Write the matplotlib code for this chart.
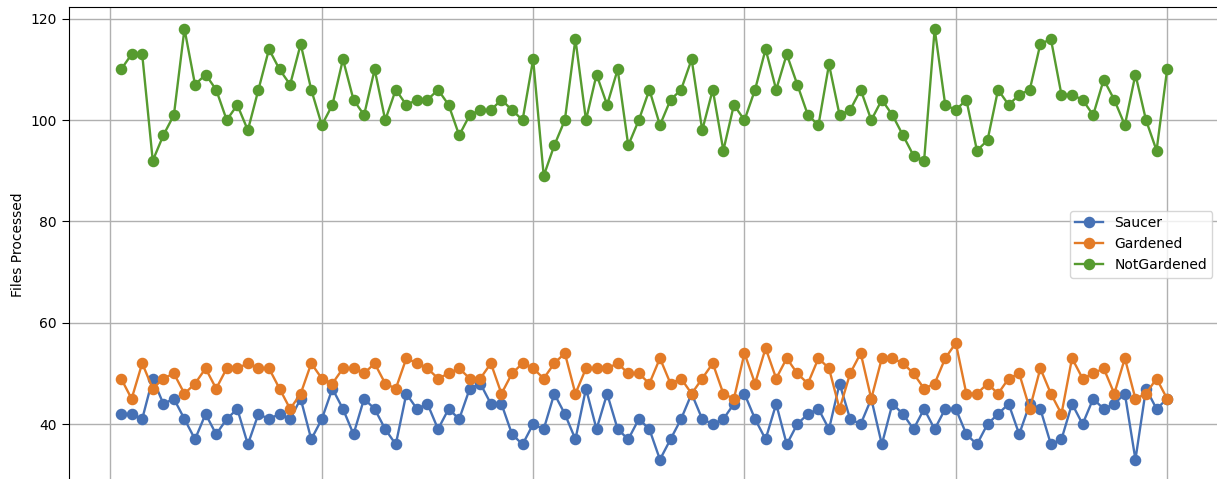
import numpy as np
import matplotlib
matplotlib.use("Agg")
import matplotlib.pyplot as plt

saucer = [42, 42, 41, 49, 44, 45, 41, 37, 42, 38, 41, 43, 36, 42, 41, 42, 41, 45, 37, 41,
          47, 43, 38, 45, 43, 39, 36, 46, 43, 44, 39, 43, 41, 47, 48, 44, 44, 38, 36, 40,
          39, 46, 42, 37, 47, 39, 46, 39, 37, 41, 39, 33, 37, 41, 46, 41, 40, 41, 44, 46,
          41, 37, 44, 36, 40, 42, 43, 39, 48, 41, 40, 45, 36, 44, 42, 39, 43, 39, 43, 43,
          38, 36, 40, 42, 44, 38, 44, 43, 36, 37, 44, 40, 45, 43, 44, 46, 33, 47, 43, 45]
gardened = [49, 45, 52, 47, 49, 50, 46, 48, 51, 47, 51, 51, 52, 51, 51, 47, 43, 46, 52, 49,
            48, 51, 51, 50, 52, 48, 47, 53, 52, 51, 49, 50, 51, 49, 49, 52, 46, 50, 52, 51,
            49, 52, 54, 46, 51, 51, 51, 52, 50, 50, 48, 53, 48, 49, 46, 49, 52, 46, 45, 54,
            48, 55, 49, 53, 50, 48, 53, 51, 43, 50, 54, 45, 53, 53, 52, 50, 47, 48, 53, 56,
            46, 46, 48, 46, 49, 50, 43, 51, 46, 42, 53, 49, 50, 51, 46, 53, 45, 46, 49, 45]
not_gardened = [110, 113, 113, 92, 97, 101, 118, 107, 109, 106, 100, 103, 98, 106, 114, 110, 107, 115, 106, 99,
                103, 112, 104, 101, 110, 100, 106, 103, 104, 104, 106, 103, 97, 101, 102, 102, 104, 102, 100, 112,
                89, 95, 100, 116, 100, 109, 103, 110, 95, 100, 106, 99, 104, 106, 112, 98, 106, 94, 103, 100,
                106, 114, 106, 113, 107, 101, 99, 111, 101, 102, 106, 100, 104, 101, 97, 93, 92, 118, 103, 102,
                104, 94, 96, 106, 103, 105, 106, 115, 116, 105, 105, 104, 101, 108, 104, 99, 109, 100, 94, 110]
runs = np.arange(1, len(saucer) + 1)

fig = plt.figure(figsize=(12.17, 4.79), dpi=100)
# the reference is a crop: bottom and right edges of the axes sit just outside the picture
ax = fig.add_axes([0.0565, -0.0044, 0.9455, 0.9890])

ax.plot(runs, saucer, marker="o", color="#4671b5", lw=1.7, ms=7.3, label="Saucer")
ax.plot(runs, gardened, marker="o", color="#e37b27", lw=1.7, ms=7.3, label="Gardened")
ax.plot(runs, not_gardened, marker="o", color="#569b2f", lw=1.7, ms=7.3, label="NotGardened")

ax.set_xlim(-3.95, 104.95)
ax.set_ylim(28.75, 122.25)
ax.set_yticks([40, 60, 80, 100, 120])
ax.set_xticks([0, 20, 40, 60, 80, 100])
ax.grid(True, color="#b0b0b0", lw=1.0)
ax.tick_params(axis="y", length=5)
# x tick labels fall below the cropped edge in the reference
ax.tick_params(axis="x", labelbottom=False)
ax.set_ylabel("Files Processed", fontsize=10)
ax.legend(loc="center right", fontsize=10)

fig.savefig("out.png", dpi=100)
